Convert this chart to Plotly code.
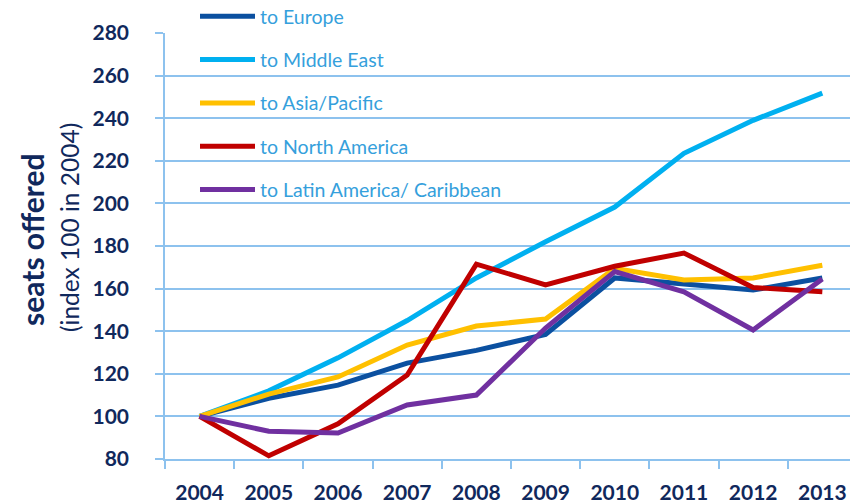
import plotly.graph_objects as go

years = ["2004", "2005", "2006", "2007", "2008", "2009", "2010", "2011", "2012", "2013"]
europe = [100, 108.5, 114.7, 125, 131, 138.5, 165, 162, 159.3, 165]
middle_east = [100, 112, 127.5, 145, 165, 182, 198.3, 223.5, 239, 251.8]
asia_pacific = [100, 110.5, 118.5, 133.5, 142.4, 145.7, 169.5, 164, 165, 171]
north_america = [100, 81.5, 96.5, 119.4, 171.5, 161.7, 170.5, 176.7, 160.5, 158.5]
latin_america = [100, 93, 92.2, 105.4, 110, 141.5, 168, 158.5, 140.6, 164.5]

series = [
    ("to Europe", europe, "#0b50a0"),
    ("to Middle East", middle_east, "#00b0f0"),
    ("to Asia/Pacific", asia_pacific, "#ffc000"),
    ("to North America", north_america, "#c00000"),
    ("to Latin America/ Caribbean", latin_america, "#7030a0"),
]

navy = "#10285c"
grid = "#8dc2ee"
font_family = "Lato, 'Open Sans', sans-serif"

fig = go.Figure()
for i, (name, vals, color) in enumerate(series):
    fig.add_trace(go.Scatter(
        x=years, y=vals, name=name, mode="lines",
        line=dict(color=color, width=5),
        legendgroup=f"g{i}",
    ))

W, H = 850, 503
ml, mr, mt, mb = 165, 0, 33, 44
pw = W - ml - mr
ph = H - mt - mb


def px_x(px):
    return (px - ml) / pw


def px_y(py):
    return (H - mb - py) / ph


fig.update_layout(
    width=W, height=H,
    margin=dict(l=ml, r=mr, t=mt, b=mb, pad=0, autoexpand=False),
    paper_bgcolor="white", plot_bgcolor="white",
    font=dict(family=font_family, color=navy),
    showlegend=True,
    legend=dict(
        x=px_x(195), y=px_y(-3),
        xanchor="left", yanchor="top",
        bgcolor="rgba(0,0,0,0)",
        font=dict(size=19.5, color="#35a0dc", family=font_family),
        tracegroupgap=15,
        itemwidth=55,
        traceorder="grouped",
    ),
    xaxis=dict(
        type="category",
        range=[-0.5, 9.4],
        showgrid=False,
        showline=True, linecolor=grid, linewidth=1.5,
        ticks="outside", ticklen=8, tickcolor=grid, tickwidth=1.5,
        tickson="boundaries",
        tickfont=dict(size=21, color=navy, family=font_family, weight="bold"),
        ticklabelstandoff=14,
        fixedrange=True,
    ),
    yaxis=dict(
        range=[80, 280],
        tickvals=list(range(80, 281, 20)),
        showgrid=True, gridcolor=grid, gridwidth=1.5,
        showline=True, linecolor=grid, linewidth=1.5,
        ticks="outside", ticklen=8, tickcolor=grid, tickwidth=1.5,
        tickfont=dict(size=21, color=navy, family=font_family, weight="bold"),
        ticklabelstandoff=22,
        zeroline=False,
        fixedrange=True,
    ),
)

fig.add_annotation(
    text="<b>seats offered</b>", textangle=-90,
    xref="paper", yref="paper",
    x=px_x(32), y=px_y(240), xanchor="center", yanchor="middle",
    showarrow=False, font=dict(size=30, color=navy, family=font_family),
)
fig.add_annotation(
    text="(index 100 in 2004)", textangle=-90,
    xref="paper", yref="paper",
    x=px_x(70), y=px_y(228), xanchor="center", yanchor="middle",
    showarrow=False, font=dict(size=24.5, color=navy, family=font_family),
)

fig.write_html(
    "out.html",
    config={"displayModeBar": False},
    post_script="document.body.style.margin='0';document.body.style.padding='0';",
)
